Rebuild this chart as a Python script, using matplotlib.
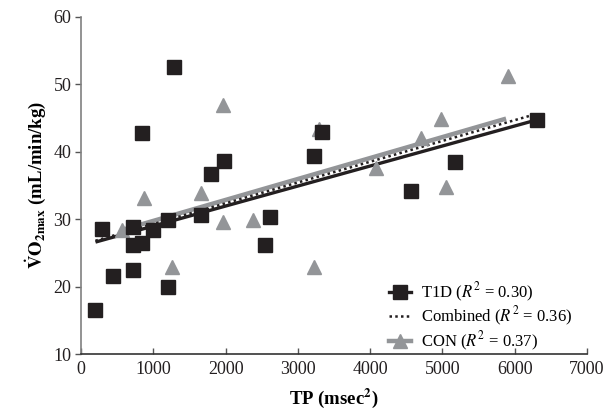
import matplotlib
matplotlib.use("Agg")
import matplotlib.pyplot as plt
from matplotlib.lines import Line2D

plt.rcParams['font.family'] = ['Liberation Serif', 'DejaVu Serif']
plt.rcParams['mathtext.fontset'] = 'stix'

# T1D group
t1d_x = [197, 293, 438, 720, 720, 720, 848, 848, 998, 1200, 1200, 1291,
         1665, 1798, 1974, 2545, 2609, 3223, 3335, 4562, 5176, 6307]
t1d_y = [16.5, 28.6, 21.6, 28.9, 26.2, 22.5, 42.8, 26.4, 28.4, 20.0, 29.9, 52.5,
         30.6, 36.7, 38.6, 26.1, 30.3, 39.3, 42.9, 34.2, 38.4, 44.7]

# control group
con_x = [560, 875, 1265, 1665, 1958, 1958, 2385, 3223, 3298, 4082, 4706, 4973, 5043, 5907]
con_y = [28.4, 33.2, 22.9, 33.9, 46.9, 29.6, 29.9, 22.9, 43.4, 37.6, 42.0, 44.9, 34.8, 51.2]

# trend line end points
t1d_fit_x = [200, 6300]
t1d_fit_y = [26.6, 44.7]
comb_fit_x = [200, 6300]
comb_fit_y = [26.8, 45.6]
con_fit_x = [600, 5880]
con_fit_y = [28.5, 44.9]

black = '#231f20'
grey = '#939598'

fig = plt.figure(figsize=(6.06, 4.19), dpi=100)
ax = fig.add_axes([0.1337, 0.155, 0.835, 0.805])

ax.plot(con_fit_x, con_fit_y, color=grey, lw=3.2, solid_capstyle='butt', zorder=2)
ax.plot(t1d_fit_x, t1d_fit_y, color=black, lw=2.4, solid_capstyle='butt', zorder=3)
ax.plot(comb_fit_x, comb_fit_y, color=black, lw=1.8, ls=(0, (1, 1.3)), zorder=4)

ax.plot(t1d_x, t1d_y, 's', color=black, ms=9.5, mec=black, zorder=5)
ax.plot(con_x, con_y, '^', color=grey, ms=10.5, mec=grey, zorder=4)

ax.set_xlim(0, 7000)
ax.set_ylim(10, 60)
ax.set_xticks(range(0, 7001, 1000))
ax.set_yticks(range(10, 61, 10))

for s in ['top', 'right']:
    ax.spines[s].set_visible(False)
ax.spines['left'].set_color('#808080')
ax.spines['left'].set_linewidth(1.2)
ax.spines['bottom'].set_color('#333333')
ax.spines['bottom'].set_linewidth(1.2)
ax.tick_params(axis='x', direction='in', length=4, width=1, color='#555555',
               labelsize=13, labelcolor='#231f20', pad=5)
ax.tick_params(axis='y', direction='out', length=4, width=1, color='#555555',
               labelsize=13, labelcolor='#231f20', pad=3)

ax.set_xlabel(r'TP (msec$^{\mathbf{2}}$)', fontsize=13.5, fontweight='bold', labelpad=6)
ax.set_ylabel(r'$\mathbf{\dot{V}O_{2max}}$ (mL/min/kg)', fontsize=13.5,
              fontweight='bold', labelpad=4)

handles = [
    Line2D([], [], color=black, lw=2.4, marker='s', ms=9.5),
    Line2D([], [], color=black, lw=1.8, ls=(0, (1, 1.3))),
    Line2D([], [], color=grey, lw=3.2, marker='^', ms=10.5),
]
labels = [r'T1D ($R^2$ = 0.30)', r'Combined ($R^2$ = 0.36)', r'CON ($R^2$ = 0.37)']
ax.legend(handles, labels, loc='lower right', bbox_to_anchor=(1.0, -0.04),
          frameon=False, fontsize=12, handlelength=1.3, handletextpad=0.6,
          labelspacing=0.05)

fig.savefig('out.png', dpi=100)
